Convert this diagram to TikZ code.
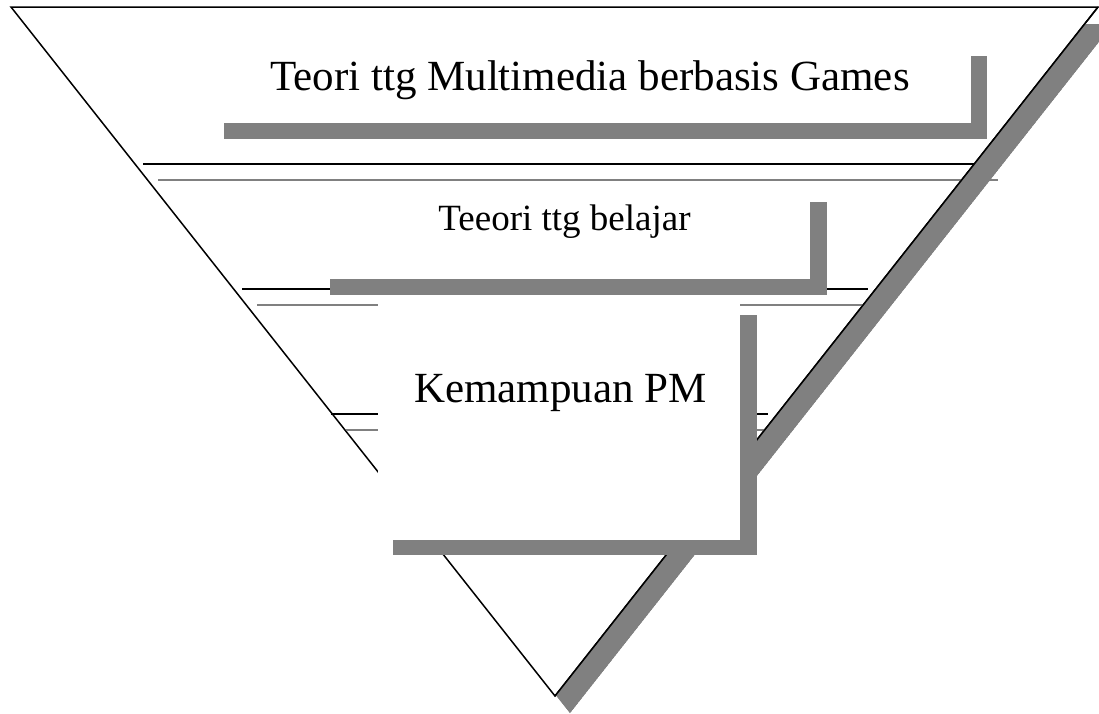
\documentclass[tikz,border=0pt]{standalone}
\usepackage{fontspec}
\setmainfont{Liberation Serif}
\definecolor{shd}{RGB}{128,128,128}
\begin{document}
\begin{tikzpicture}[x=1pt,y=-1pt,
  edge/.style={black,line width=1.5pt,line join=miter},
  rule/.style={black,line width=1.3pt},
  ruleshadow/.style={shd,line width=2pt},
  boxshadow/.style={fill=shd,draw=none},
  boxface/.style={fill=white,draw=none},
  label/.style={anchor=base,inner sep=0pt}]
\useasboundingbox (0,0) rectangle (1099,713);
% triangle shadow and triangle
\coordinate (tl) at (11,7);
\coordinate (tr) at (1098,7);
\coordinate (ap) at (555,696);
\fill[shd] ([shift={(15,17)}]tl) -- ([shift={(15,17)}]tr) -- ([shift={(15,17)}]ap) -- cycle;
\fill[white] (tl) -- (tr) -- (ap) -- cycle;
\draw[edge] (tl) -- (tr) -- (ap) -- cycle;
% horizontal rules with shadows
\coordinate (r1a) at (143,164); \coordinate (r1b) at (982,164);
\coordinate (s1a) at (158,180); \coordinate (s1b) at (998,180);
\coordinate (r2a) at (242,289); \coordinate (r2b) at (868,289);
\coordinate (s2a) at (257,305); \coordinate (s2b) at (883,305);
\coordinate (r3a) at (331,414); \coordinate (r3b) at (768,414);
\coordinate (s3a) at (346,430); \coordinate (s3b) at (783,430);
\draw[ruleshadow] (s1a) -- (s1b);
\draw[ruleshadow] (s2a) -- (s2b);
\draw[ruleshadow] (s3a) -- (s3b);
\draw[rule] (r1a) -- (r1b);
\draw[rule] (r2a) -- (r2b);
\draw[rule] (r3a) -- (r3b);
% redraw triangle shadow band over rule shadows on right side
\begin{scope}
\clip (tr) -- ([shift={(15,17)}]tr) -- ([shift={(15,17)}]ap) -- (ap) -- cycle;
\fill[shd] ([shift={(15,17)}]tl) -- ([shift={(15,17)}]tr) -- ([shift={(15,17)}]ap) -- cycle;
\end{scope}
\draw[edge] (tr) -- (ap);
% boxes
\fill[boxshadow] (224,56) rectangle (987,139);
\fill[boxface] (209,40) rectangle (971,123);
\fill[boxshadow] (330,202) rectangle (827,295);
\fill[boxface] (315,187) rectangle (810,279);
\fill[boxshadow] (393,315) rectangle (757,555);
\fill[boxface] (378,300) rectangle (740,540);
\node[label,font=\fontsize{43}{50}\selectfont] (t1) at (590,90) {Teori ttg Multimedia berbasis Games};
\node[label,font=\fontsize{37}{44}\selectfont] (t2) at (564.5,230.7) {Teeori ttg belajar};
\node[label,font=\fontsize{43}{50}\selectfont] (t3) at (560.5,402.7) {Kemampuan PM};
\end{tikzpicture}
\end{document}
